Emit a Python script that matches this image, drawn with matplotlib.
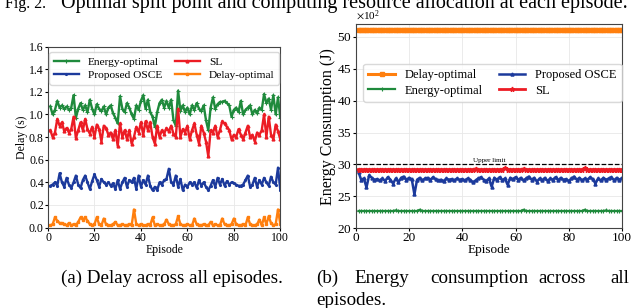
import matplotlib
matplotlib.use("Agg")
import matplotlib.pyplot as plt
import numpy as np

plt.rcParams['font.family'] = ['Liberation Serif', 'DejaVu Serif']
plt.rcParams['mathtext.fontset'] = 'stix'

episodes = np.arange(1, 101)

# (a) delay per episode, seconds
delay_energy_opt = [
    1.07, 1.00, 1.04, 1.12, 1.06, 1.08, 1.05, 1.07, 1.04, 1.06,
    1.17, 0.97, 1.05, 1.10, 1.04, 1.08, 1.02, 1.13, 1.05, 1.00,
    1.09, 1.05, 1.03, 1.07, 1.00, 1.06, 1.08, 1.01, 0.97, 0.92,
    1.16, 1.05, 1.02, 1.10, 1.06, 1.00, 0.96, 1.08, 1.04, 1.12,
    1.17, 1.05, 1.13, 1.02, 0.98, 0.89, 1.02, 1.10, 1.13, 1.06,
    1.12, 1.06, 1.13, 0.95, 0.90, 1.21, 1.03, 1.08, 1.02, 1.06,
    1.00, 1.08, 1.04, 1.10, 1.05, 1.03, 1.08, 0.95, 0.86, 1.06,
    1.15, 1.05, 1.09, 1.11, 1.11, 1.12, 1.10, 1.08, 0.98, 1.04,
    1.06, 1.02, 1.12, 1.00, 1.04, 1.06, 1.08, 1.00, 1.04, 1.01,
    1.06, 1.04, 1.18, 1.10, 1.14, 1.04, 1.17, 1.00, 1.15, 0.97]
delay_sl = [
    0.86, 0.80, 0.84, 0.96, 0.90, 0.93, 0.85, 0.88, 0.84, 0.87,
    0.98, 0.79, 0.86, 0.93, 0.86, 0.96, 0.87, 0.83, 0.89, 0.80,
    0.91, 0.87, 0.76, 0.90, 0.88, 0.82, 0.84, 0.78, 0.86, 0.72,
    0.92, 0.80, 0.86, 0.78, 0.86, 0.74, 0.80, 0.89, 0.84, 0.93,
    0.82, 0.94, 0.86, 0.93, 0.80, 0.74, 0.90, 0.80, 0.86, 0.83,
    0.88, 0.85, 0.90, 0.83, 0.80, 1.05, 0.80, 0.87, 0.84, 0.90,
    0.78, 0.86, 0.92, 0.82, 0.74, 0.90, 0.84, 0.76, 0.63, 0.86,
    0.84, 0.90, 0.80, 0.86, 0.94, 0.92, 0.89, 0.86, 0.78, 0.82,
    0.80, 0.87, 0.82, 0.78, 0.84, 0.90, 0.80, 0.82, 0.76, 0.84,
    0.82, 0.86, 1.00, 0.80, 0.98, 0.82, 0.78, 0.91, 0.85, 0.78]
delay_osce = [
    0.37, 0.38, 0.40, 0.37, 0.48, 0.40, 0.36, 0.44, 0.38, 0.35,
    0.40, 0.46, 0.38, 0.35, 0.42, 0.46, 0.40, 0.34, 0.41, 0.47,
    0.42, 0.36, 0.43, 0.40, 0.38, 0.40, 0.37, 0.39, 0.34, 0.42,
    0.34, 0.40, 0.44, 0.36, 0.42, 0.40, 0.44, 0.34, 0.46, 0.36,
    0.42, 0.38, 0.46, 0.37, 0.33, 0.36, 0.33, 0.40, 0.38, 0.42,
    0.43, 0.52, 0.40, 0.38, 0.46, 0.36, 0.43, 0.33, 0.38, 0.36,
    0.40, 0.38, 0.40, 0.35, 0.42, 0.37, 0.40, 0.36, 0.33, 0.37,
    0.42, 0.36, 0.44, 0.38, 0.43, 0.37, 0.41, 0.38, 0.40, 0.39,
    0.38, 0.37, 0.37, 0.38, 0.42, 0.46, 0.36, 0.38, 0.44, 0.36,
    0.42, 0.38, 0.44, 0.40, 0.37, 0.45, 0.40, 0.38, 0.53, 0.33]
delay_delay_opt = [
    0.02, 0.03, 0.09, 0.06, 0.04, 0.04, 0.03, 0.02, 0.04, 0.02,
    0.03, 0.02, 0.05, 0.09, 0.07, 0.09, 0.06, 0.03, 0.02, 0.03,
    0.09, 0.03, 0.02, 0.08, 0.03, 0.02, 0.02, 0.03, 0.05, 0.02,
    0.02, 0.03, 0.02, 0.02, 0.03, 0.02, 0.16, 0.03, 0.02, 0.03,
    0.02, 0.02, 0.03, 0.02, 0.09, 0.02, 0.03, 0.02, 0.02, 0.03,
    0.07, 0.03, 0.02, 0.02, 0.03, 0.10, 0.03, 0.02, 0.02, 0.03,
    0.02, 0.02, 0.08, 0.03, 0.02, 0.02, 0.03, 0.02, 0.02, 0.05,
    0.02, 0.03, 0.02, 0.02, 0.08, 0.03, 0.02, 0.02, 0.03, 0.08,
    0.03, 0.02, 0.02, 0.03, 0.02, 0.09, 0.03, 0.02, 0.02, 0.03,
    0.07, 0.02, 0.09, 0.03, 0.10, 0.04, 0.02, 0.03, 0.16, 0.03]

# (b) energy per episode, in units of 1e2 J
energy_delay_opt = [
    51.0, 51.0, 51.0, 51.0, 51.0, 51.0, 51.0, 51.0, 51.0, 51.0,
    51.0, 51.0, 51.0, 51.0, 51.0, 51.0, 51.0, 51.0, 51.0, 51.0,
    51.0, 51.0, 51.0, 51.0, 51.0, 51.0, 51.0, 51.0, 51.0, 51.0,
    51.0, 51.0, 51.0, 51.0, 51.0, 51.0, 51.0, 51.0, 51.0, 51.0,
    51.0, 51.0, 51.0, 51.0, 51.0, 51.0, 51.0, 51.0, 51.0, 51.0,
    51.0, 51.0, 51.0, 51.0, 51.0, 51.0, 51.0, 51.0, 51.0, 51.0,
    51.0, 51.0, 51.0, 51.0, 51.0, 51.0, 51.0, 51.0, 51.0, 51.0,
    51.0, 51.0, 51.0, 51.0, 51.0, 51.0, 51.0, 51.0, 51.0, 51.0,
    51.0, 51.0, 51.0, 51.0, 51.0, 51.0, 51.0, 51.0, 51.0, 51.0,
    51.0, 51.0, 51.0, 51.0, 51.0, 51.0, 51.0, 51.0, 51.0, 51.0]
energy_sl = [
    29.2, 29.2, 29.2, 29.2, 29.2, 29.2, 29.2, 29.2, 29.2, 29.2,
    29.2, 29.2, 29.2, 29.2, 29.2, 29.2, 29.2, 29.2, 29.2, 29.2,
    29.2, 29.2, 29.2, 29.2, 29.2, 29.2, 29.2, 29.2, 29.2, 29.2,
    29.2, 29.2, 29.2, 29.2, 29.2, 29.2, 29.2, 29.2, 29.2, 29.2,
    29.2, 29.2, 29.2, 29.2, 29.3, 29.2, 29.2, 29.2, 29.2, 29.2,
    29.2, 29.2, 29.2, 29.2, 29.2, 29.4, 29.2, 29.2, 29.2, 29.2,
    29.2, 29.2, 29.3, 29.2, 29.2, 29.2, 29.2, 29.2, 29.2, 29.2,
    29.2, 29.2, 29.2, 29.2, 29.2, 29.2, 29.2, 29.2, 29.2, 29.2,
    29.2, 29.2, 29.2, 29.2, 29.2, 29.4, 29.2, 29.2, 29.2, 29.2,
    29.2, 29.2, 29.2, 29.2, 29.2, 29.2, 29.2, 29.2, 29.2, 29.2]
energy_osce = [
    28.8, 27.6, 27.8, 26.4, 28.3, 27.9, 27.6, 27.7, 27.5, 27.8,
    27.4, 28.0, 27.6, 27.0, 27.8, 27.2, 27.9, 28.1, 27.6, 27.9,
    27.7, 25.3, 27.6, 27.9, 27.5, 27.8, 27.9, 27.6, 28.0, 27.7,
    27.5, 27.6, 27.4, 27.8, 27.6, 27.7, 27.5, 27.8, 27.6, 27.7,
    27.5, 27.8, 27.6, 27.2, 27.5, 27.8, 28.0, 27.6, 27.4, 27.8,
    26.5, 27.9, 27.6, 28.0, 27.5, 27.8, 26.8, 27.9, 27.7, 28.0,
    27.6, 27.9, 27.5, 27.8, 28.1, 27.6, 27.9, 27.3, 27.8, 27.5,
    27.9, 27.4, 27.8, 27.6, 28.0, 27.5, 27.9, 27.6, 27.7, 27.4,
    27.8, 28.1, 27.6, 27.9, 27.5, 27.8, 27.6, 28.0, 27.7, 27.0,
    27.8, 27.5, 27.9, 27.6, 27.8, 28.0, 27.5, 27.9, 27.6, 27.9]
energy_energy_opt = [
    22.7, 22.7, 22.7, 22.7, 22.7, 22.7, 22.7, 22.7, 22.7, 22.7,
    22.7, 22.7, 22.7, 22.7, 22.8, 22.7, 22.7, 22.7, 22.7, 22.7,
    22.7, 22.7, 22.7, 22.9, 22.7, 22.7, 22.7, 22.7, 22.7, 22.7,
    22.7, 22.7, 22.7, 22.7, 22.7, 22.7, 22.7, 22.7, 22.7, 22.7,
    22.7, 22.7, 22.7, 22.7, 22.7, 22.7, 22.7, 22.7, 22.7, 22.7,
    22.7, 22.7, 22.7, 22.7, 22.7, 22.7, 22.7, 22.7, 22.7, 22.7,
    22.7, 22.7, 22.9, 22.7, 22.7, 22.7, 22.7, 22.7, 22.7, 22.7,
    22.7, 22.7, 22.7, 22.7, 22.7, 22.7, 22.7, 22.7, 22.7, 22.7,
    22.7, 22.7, 22.7, 22.7, 22.7, 22.9, 22.7, 22.7, 22.7, 22.7,
    22.7, 22.7, 22.7, 22.8, 22.7, 22.7, 22.7, 22.7, 22.7, 22.7]
energy_limit = 30.0

GREEN = '#1f8a3c'
RED = '#ec1c24'
BLUE = '#1c3a9c'
ORANGE = '#ff7f0e'

fig = plt.figure(figsize=(6.4, 3.08), dpi=100)

# ---- (a) delay
ax1 = fig.add_axes([0.075, 0.261, 0.363, 0.588])
l_e, = ax1.plot(episodes, delay_energy_opt, color=GREEN, lw=1.7, marker='+', ms=3, mew=0.8, label='Energy-optimal')
l_p, = ax1.plot(episodes, delay_osce, color=BLUE, lw=1.7, marker='.', ms=2.5, label='Proposed OSCE')
l_s, = ax1.plot(episodes, delay_sl, color=RED, lw=1.7, marker='^', ms=2, label='SL')
l_d, = ax1.plot(episodes, delay_delay_opt, color=ORANGE, lw=1.7, marker='s', ms=1.8, label='Delay-optimal')
ax1.set_xlim(0, 100)
ax1.set_ylim(0, 1.6)
ax1.set_xticks([0, 20, 40, 60, 80, 100])
ax1.set_yticks(np.arange(0, 1.61, 0.2))
ax1.set_yticklabels(['%.1f' % v for v in np.arange(0, 1.61, 0.2)])
ax1.set_xlabel('Episode', fontsize=8.5, labelpad=0)
ax1.set_ylabel('Delay (s)', fontsize=8.5, labelpad=1)
ax1.tick_params(labelsize=8.5, length=2, pad=1)
ax1.grid(color='#e8e8e8', lw=0.6)
ax1.legend(handles=[l_e, l_p, l_s, l_d], ncol=2, loc='upper center', fontsize=8.2,
           handlelength=2.2, columnspacing=1.1, borderpad=0.4, labelspacing=0.3,
           frameon=True, edgecolor='#d0d0d0', fancybox=True)

# ---- (b) energy
ax2 = fig.add_axes([0.556, 0.259, 0.416, 0.663])
r_d, = ax2.plot(episodes, np.array(energy_delay_opt) * 100, color=ORANGE, lw=2.2, marker='s', ms=2.2, label='Delay-optimal')
r_e, = ax2.plot(episodes, np.array(energy_energy_opt) * 100, color=GREEN, lw=1.6, marker='+', ms=3, mew=0.8, label='Energy-optimal')
r_p, = ax2.plot(episodes, np.array(energy_osce) * 100, color=BLUE, lw=1.8, marker='^', ms=2.2, label='Proposed OSCE')
r_s, = ax2.plot(episodes, np.array(energy_sl) * 100, color=RED, lw=2.0, marker='*', ms=3.5, label='SL')
ax2.axhline(energy_limit * 100, color='black', ls='--', lw=0.9)
ax2.text(50, energy_limit * 100 + 25, 'Upper limit', ha='center', va='bottom', fontsize=5)
ax2.set_xlim(0, 100)
ax2.set_ylim(2000, 5200)
ax2.set_xticks([0, 20, 40, 60, 80, 100])
ax2.set_yticks(np.arange(2000, 5001, 500))
ax2.ticklabel_format(axis='y', style='sci', scilimits=(2, 2), useMathText=True)
ax2.yaxis.get_offset_text().set_fontsize(8)
ax2.set_xlabel('Episode', fontsize=9.5, labelpad=0)
ax2.set_ylabel('Energy Consumption (J)', fontsize=11.5, labelpad=1)
ax2.tick_params(labelsize=9.5, length=2, pad=1)
ax2.grid(color='#e8e8e8', lw=0.6)
ax2.legend(handles=[r_d, r_e, r_p, r_s], ncol=2, loc='upper left', bbox_to_anchor=(0.005, 0.835),
           fontsize=9, handlelength=2.1, columnspacing=1.3, borderpad=0.4, labelspacing=0.3,
           frameon=True, edgecolor='#d0d0d0', fancybox=True)

for ax in (ax1, ax2):
    for sp in ax.spines.values():
        sp.set_color('#444444')
        sp.set_linewidth(0.8)

# captions (top one is cut by the page edge in the reference)
cap_top = 1 - 8 / 308
fig.text(5 / 640, cap_top, 'Fig. 2.', fontsize=11.5, va='baseline', ha='left')
fig.text(61 / 640, cap_top, 'Optimal split point and computing resource allocation at each episode.',
         fontsize=14.5, va='baseline', ha='left')
fig.text(61 / 640, 1 - 283 / 308, '(a) Delay across all episodes.', fontsize=13.7, va='baseline', ha='left')
for word, px in [('(b)', 316), ('Energy', 354), ('consumption', 430), ('across', 538), ('all', 610)]:
    fig.text(px / 640, 1 - 283 / 308, word, fontsize=13.7, va='baseline', ha='left')
fig.text(316 / 640, 1 - 305 / 308, 'episodes.', fontsize=13.7, va='baseline', ha='left')

fig.savefig('out.png', dpi=100)
